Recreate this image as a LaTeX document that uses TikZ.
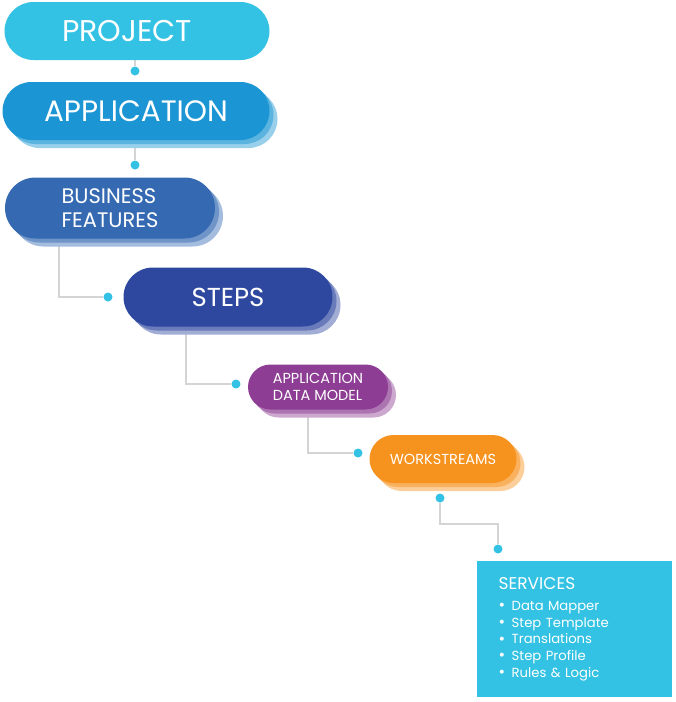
\documentclass[tikz,border=0pt]{standalone}
\usepackage{fontspec}
\setmainfont{Poppins}
\usetikzlibrary{shapes.misc,shadows,backgrounds}

\definecolor{skycyan}{HTML}{33C2E3}
\definecolor{appblue}{HTML}{1B95D3}
\definecolor{bizblue}{HTML}{356AB3}
\definecolor{stepblue}{HTML}{2E489F}
\definecolor{modelpurple}{HTML}{8D3E94}
\definecolor{wsorange}{HTML}{F6921E}
\definecolor{linkgray}{HTML}{D4D4D4}

\newcommand{\svcitem}{\makebox[13pt][l]{\raisebox{-0.5pt}{\fontsize{16}{16}\selectfont\textbullet}}}

\begin{document}
\begin{tikzpicture}[x=1pt,y=-1pt,
        pill/.style={rounded rectangle,fill=#1,text=white,inner sep=0pt,align=center},
        layered/.style={general shadow={fill=#1!45!white,shadow xshift=8pt,shadow yshift=-8pt},
                        general shadow={fill=#1!72!white,shadow xshift=4pt,shadow yshift=-4pt}},
        dot/.style={circle,fill=skycyan,inner sep=0pt,minimum size=9pt},
        link/.style={draw=linkgray,line width=1.3pt}]

    \useasboundingbox (0,0) rectangle (676,702);

    % levels
    \node[pill=skycyan,minimum width=265pt,minimum height=58pt,font=\fontsize{30}{32}\selectfont] (project) at (137,31) {PROJECT\hspace*{20pt}};
    \node[pill=appblue,layered=appblue,minimum width=267pt,minimum height=58pt,font=\fontsize{29.5}{32}\selectfont] (application) at (136,111) {APPLICATION};
    \node[pill=bizblue,layered=bizblue,minimum width=210pt,minimum height=61pt,font=\fontsize{21}{24}\selectfont,align=left] (business) at (110,208) {BUSINESS\\FEATURES};
    \node[pill=stepblue,layered=stepblue,minimum width=209pt,minimum height=59pt,font=\fontsize{26}{28}\selectfont] (steps) at (228,297) {STEPS};
    \node[pill=modelpurple,layered=modelpurple,minimum width=140pt,minimum height=45pt,font=\fontsize{14.5}{16.5}\selectfont,align=left] (datamodel) at (318,387) {APPLICATION\\DATA MODEL};
    \node[pill=wsorange,layered=wsorange,minimum width=147pt,minimum height=48pt,font=\fontsize{14.5}{16}\selectfont] (workstreams) at (443,459) {WORKSTREAMS};

    \node[fill=skycyan,text=white,anchor=north west,minimum width=195pt,minimum height=136pt,
          text width=152pt,inner xsep=21pt,align=left,font=\fontsize{13.2}{16.7}\selectfont] (services) at (477,561)
        {{\fontsize{17}{18}\selectfont SERVICES}\\[4pt]
         \svcitem Data Mapper\\
         \svcitem Step Template\\
         \svcitem Translations\\
         \svcitem Step Profile\\
         \svcitem Rules \& Logic};

    % dots
    \node[dot] (d1) at (135,71) {};
    \node[dot] (d2) at (135,165) {};
    \node[dot] (d3) at (108,297) {};
    \node[dot] (d4) at (236,384) {};
    \node[dot] (d5) at (358,453) {};
    \node[dot] (d6) at (440,498) {};
    \node[dot] (d7) at (498,549) {};

    \begin{scope}[on background layer]
        \draw[link] (project.south -| d1) -- (d1);
        \draw[link] (application.south -| d2) -- (d2);
        \draw[link] ([xshift=-51pt]business.south) |- (d3);
        \draw[link] ([xshift=-42pt]steps.south) |- (d4);
        \draw[link] ([xshift=-10pt]datamodel.south) |- (d5);
        \draw[link] (d6) -- ++(0,26) -| (d7);
    \end{scope}
\end{tikzpicture}
\end{document}
